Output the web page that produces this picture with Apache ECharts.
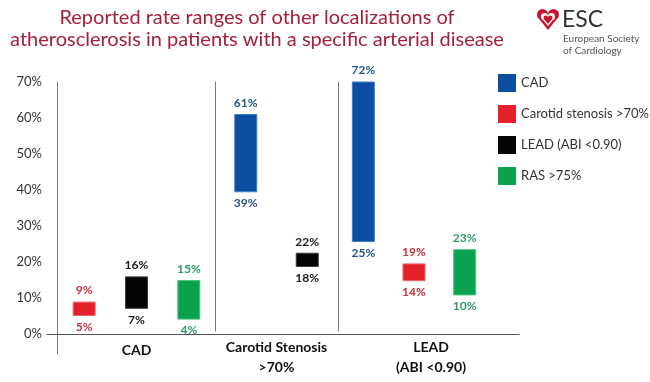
<!DOCTYPE html>
<html><head><meta charset="utf-8">
<script src="https://cdn.jsdelivr.net/npm/echarts@6/dist/echarts.min.js"></script>
<style>html,body{margin:0;padding:0;background:#fff}#c{width:650px;height:382px}</style>
</head><body><div id="c"></div>
<script>
// ---- data ----
const groups = ['CAD', 'Carotid Stenosis\n>70%', 'LEAD\n(ABI <0.90)'];
const diseases = ['CAD', 'Carotid stenosis >70%', 'LEAD (ABI <0.90)', 'RAS >75%'];
// ranges per group (CAD, Carotid Stenosis, LEAD); null = not shown
const lowCAD = [null, 39, 25];
const highCAD = [null, 61, 72];
const lowCarotid = [5, null, 14];
const highCarotid = [9, null, 19];
const lowLEAD = [7, 18, null];
const highLEAD = [16, 22, null];
const lowRAS = [4, null, 10];
const highRAS = [15, null, 23];
const yMin = 0, yMax = 70, yStep = 10;
const titleLines = ['Reported rate ranges of other localizations of', 'atherosclerosis in patients with a specific arterial disease'];

// ---- styles ----
const lows = [lowCAD, lowCarotid, lowLEAD, lowRAS];
const highs = [highCAD, highCarotid, highLEAD, highRAS];
const barColors = ['#0b4ea2', '#e4202b', '#050505', '#0aa24f'];
const borderColors = ['#3f7cc8', '#f0656b', '#3a3a3a', '#4cc283'];
const labelColors = ['#24548f', '#c9303f', '#1a1a1a', '#2f9a62'];
const FONT = 'Lato, "Open Sans", sans-serif';

const gridDefs = [
  {left: 58, width: 157, top: 82, bottom: 48},
  {left: 215, width: 123, top: 82, bottom: 48},
  {left: 338, width: 152, top: 82, bottom: 48},
  {left: 57, width: 462, top: 82, bottom: 28},  // helper: left frame line
  {left: 47, width: 472, top: 82, bottom: 48}   // helper: baseline
];
const namePad = [[0,0,0,0],[0,0,0,0],[0,0,0,34]];

const xAxes = [], yAxes = [], series = [];
for (let g = 0; g < 3; g++) {
  const present = [];
  for (let d = 0; d < 4; d++) if (lows[d][g] !== null) present.push(d);
  xAxes.push({
    type: 'category', gridIndex: g, data: present.map(d => diseases[d]),
    axisLine: {show: false}, axisTick: {show: false}, axisLabel: {show: false},
    name: groups[g], nameLocation: 'middle', nameGap: 6,
    nameTextStyle: {fontFamily: FONT, fontSize: 14, fontWeight: 'bold', color: '#111',
      lineHeight: 20, verticalAlign: 'top', padding: namePad[g]}
  });
  yAxes.push({
    type: 'value', gridIndex: g, min: yMin, max: yMax, interval: yStep,
    axisLine: {show: g > 0, lineStyle: {color: '#7a7a7a', width: 1}},
    axisTick: {show: false}, splitLine: {show: false},
    axisLabel: {show: g === 0, formatter: '{value}%', margin: 16,
      fontFamily: FONT, fontSize: 13, color: '#333'}
  });
  const stack = 'r' + g;
  series.push({
    type: 'bar', xAxisIndex: g, yAxisIndex: g, stack: stack, barWidth: 23, silent: true,
    itemStyle: {color: 'rgba(0,0,0,0)'},
    label: {show: true, position: 'insideTop', distance: 5, formatter: p => p.value + '%',
      fontFamily: FONT, fontSize: 12, fontWeight: 'bold'},
    data: present.map(d => ({value: lows[d][g], label: {color: labelColors[d]}}))
  });
  present.forEach(d => {
    series.push({
      name: diseases[d], type: 'bar', xAxisIndex: g, yAxisIndex: g, stack: stack, barWidth: 23,
      itemStyle: {color: barColors[d], borderColor: borderColors[d], borderWidth: 1},
      label: {show: true, position: 'top', distance: 5, color: labelColors[d],
        fontFamily: FONT, fontSize: 12, fontWeight: 'bold',
        formatter: p => highs[d][g] + '%'},
      data: present.map(dd => dd === d ? highs[d][g] - lows[d][g] : '-')
    });
  });
}
// helper axes
xAxes.push({type: 'value', gridIndex: 3, show: false});
yAxes.push({type: 'value', gridIndex: 3, axisLine: {show: true, lineStyle: {color: '#7a7a7a'}},
  axisTick: {show: false}, axisLabel: {show: false}, splitLine: {show: false}});
xAxes.push({type: 'value', gridIndex: 4, axisLine: {show: true, onZero: false, lineStyle: {color: '#555'}},
  axisTick: {show: false}, axisLabel: {show: false}, splitLine: {show: false}});
yAxes.push({type: 'value', gridIndex: 4, show: false});

// heart logo built from two circles and a polygon
function heart(x0, y0, w, h, color) {
  const r = w / 4, cy = y0 + r;
  return [
    {type: 'circle', shape: {cx: x0 + r, cy: cy, r: r}, style: {fill: color}},
    {type: 'circle', shape: {cx: x0 + 3 * r, cy: cy, r: r}, style: {fill: color}},
    {type: 'polygon', shape: {points: [[x0 + 0.2, cy + r * 0.35], [x0 + w / 2, y0 + h], [x0 + w - 0.2, cy + r * 0.35], [x0 + w / 2, cy]]},
      style: {fill: color}}
  ];
}

const chart = echarts.init(document.getElementById('c'), null, {renderer: 'canvas'});
chart.setOption({
  backgroundColor: '#fff',
  animation: false,
  grid: gridDefs,
  xAxis: xAxes,
  yAxis: yAxes,
  legend: {
    data: diseases, orient: 'vertical', left: 493, top: 69, itemWidth: 18, itemHeight: 18,
    itemGap: 13, icon: 'rect', selectedMode: false,
    textStyle: {fontFamily: FONT, fontSize: 13, color: '#333'},
    itemStyle: {borderWidth: 0}
  },
  series: series,
  graphic: [
    {type: 'text', x: 257, y: 18, style: {text: titleLines[0], font: '20px ' + FONT, fill: '#a3213a',
      textAlign: 'center', textVerticalAlign: 'middle'}},
    {type: 'text', x: 257, y: 40, style: {text: titleLines[1], font: '20px ' + FONT, fill: '#a3213a',
      textAlign: 'center', textVerticalAlign: 'middle'}}
  ].concat(heart(537, 9, 22, 21, '#c5162f'), heart(541, 13, 14, 13, '#fff'), heart(543.5, 15.5, 9, 8.5, '#c5162f'), [
    {type: 'text', x: 562, y: 20, style: {text: 'ESC', font: '23px ' + FONT, fill: '#333',
      textVerticalAlign: 'middle'}},
    {type: 'text', x: 563, y: 39, style: {text: 'European Society', font: '10px ' + FONT, fill: '#555',
      textVerticalAlign: 'middle'}},
    {type: 'text', x: 563, y: 51, style: {text: 'of Cardiology', font: '10px ' + FONT, fill: '#555',
      textVerticalAlign: 'middle'}}
  ])
});
</script></body></html>
